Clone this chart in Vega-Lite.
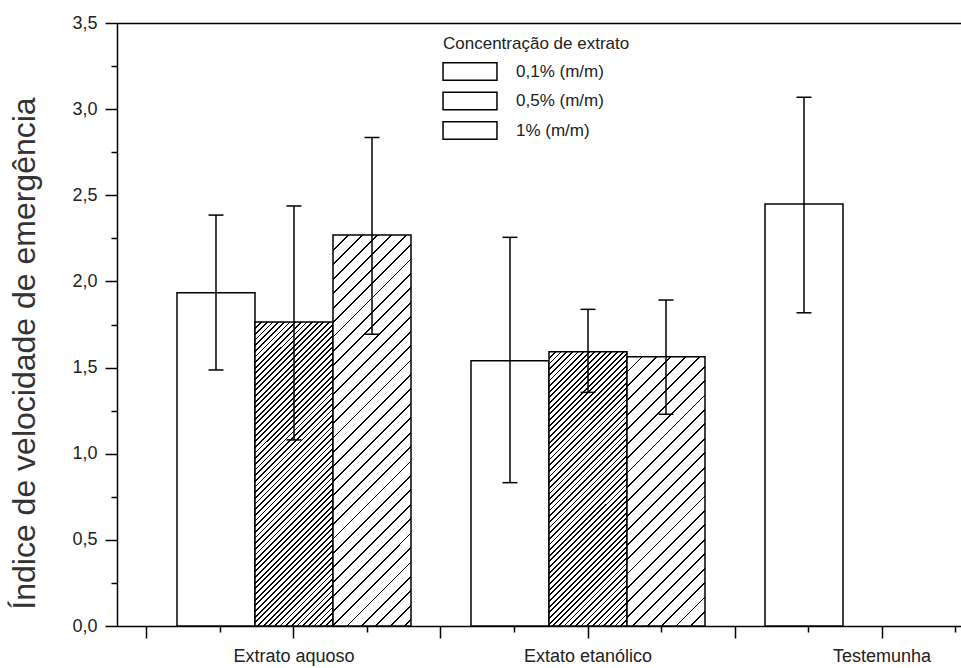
{
"$schema": "https://vega.github.io/schema/vega-lite/v6.json",
"autosize": "none",
"width": 844,
"height": 603,
"padding": {"left": 117, "top": 23, "right": 0, "bottom": 42},
"background": "white",
"config": {
"view": {"stroke": null},
"axis": {"domainColor": "#000", "domainWidth": 1.5, "tickColor": "#000", "tickWidth": 1.5, "labelFont": "Liberation Sans", "labelColor": "#222", "titleFont": "Liberation Sans", "grid": false}
},
"params": [
{"name": "denseStops", "value": [
{"offset":0,"color":"#000"},{"offset":0.004,"color":"#000"},{"offset":0.004,"color":"#fff"},{"offset":0.0125,"color":"#fff"},
{"offset":0.0125,"color":"#000"},{"offset":0.0165,"color":"#000"},{"offset":0.0165,"color":"#fff"},{"offset":0.025,"color":"#fff"},
{"offset":0.025,"color":"#000"},{"offset":0.029,"color":"#000"},{"offset":0.029,"color":"#fff"},{"offset":0.0375,"color":"#fff"},
{"offset":0.0375,"color":"#000"},{"offset":0.0415,"color":"#000"},{"offset":0.0415,"color":"#fff"},{"offset":0.05,"color":"#fff"},
{"offset":0.05,"color":"#000"},{"offset":0.054,"color":"#000"},{"offset":0.054,"color":"#fff"},{"offset":0.0625,"color":"#fff"},
{"offset":0.0625,"color":"#000"},{"offset":0.0665,"color":"#000"},{"offset":0.0665,"color":"#fff"},{"offset":0.075,"color":"#fff"},
{"offset":0.075,"color":"#000"},{"offset":0.079,"color":"#000"},{"offset":0.079,"color":"#fff"},{"offset":0.0875,"color":"#fff"},
{"offset":0.0875,"color":"#000"},{"offset":0.0915,"color":"#000"},{"offset":0.0915,"color":"#fff"},{"offset":0.1,"color":"#fff"},
{"offset":0.1,"color":"#000"},{"offset":0.104,"color":"#000"},{"offset":0.104,"color":"#fff"},{"offset":0.1125,"color":"#fff"},
{"offset":0.1125,"color":"#000"},{"offset":0.1165,"color":"#000"},{"offset":0.1165,"color":"#fff"},{"offset":0.125,"color":"#fff"},
{"offset":0.125,"color":"#000"},{"offset":0.129,"color":"#000"},{"offset":0.129,"color":"#fff"},{"offset":0.1375,"color":"#fff"},
{"offset":0.1375,"color":"#000"},{"offset":0.1415,"color":"#000"},{"offset":0.1415,"color":"#fff"},{"offset":0.15,"color":"#fff"},
{"offset":0.15,"color":"#000"},{"offset":0.154,"color":"#000"},{"offset":0.154,"color":"#fff"},{"offset":0.1625,"color":"#fff"},
{"offset":0.1625,"color":"#000"},{"offset":0.1665,"color":"#000"},{"offset":0.1665,"color":"#fff"},{"offset":0.175,"color":"#fff"},
{"offset":0.175,"color":"#000"},{"offset":0.179,"color":"#000"},{"offset":0.179,"color":"#fff"},{"offset":0.1875,"color":"#fff"},
{"offset":0.1875,"color":"#000"},{"offset":0.1915,"color":"#000"},{"offset":0.1915,"color":"#fff"},{"offset":0.2,"color":"#fff"},
{"offset":0.2,"color":"#000"},{"offset":0.204,"color":"#000"},{"offset":0.204,"color":"#fff"},{"offset":0.2125,"color":"#fff"},
{"offset":0.2125,"color":"#000"},{"offset":0.2165,"color":"#000"},{"offset":0.2165,"color":"#fff"},{"offset":0.225,"color":"#fff"},
{"offset":0.225,"color":"#000"},{"offset":0.229,"color":"#000"},{"offset":0.229,"color":"#fff"},{"offset":0.2375,"color":"#fff"},
{"offset":0.2375,"color":"#000"},{"offset":0.2415,"color":"#000"},{"offset":0.2415,"color":"#fff"},{"offset":0.25,"color":"#fff"},
{"offset":0.25,"color":"#000"},{"offset":0.254,"color":"#000"},{"offset":0.254,"color":"#fff"},{"offset":0.2625,"color":"#fff"},
{"offset":0.2625,"color":"#000"},{"offset":0.2665,"color":"#000"},{"offset":0.2665,"color":"#fff"},{"offset":0.275,"color":"#fff"},
{"offset":0.275,"color":"#000"},{"offset":0.279,"color":"#000"},{"offset":0.279,"color":"#fff"},{"offset":0.2875,"color":"#fff"},
{"offset":0.2875,"color":"#000"},{"offset":0.2915,"color":"#000"},{"offset":0.2915,"color":"#fff"},{"offset":0.3,"color":"#fff"},
{"offset":0.3,"color":"#000"},{"offset":0.304,"color":"#000"},{"offset":0.304,"color":"#fff"},{"offset":0.3125,"color":"#fff"},
{"offset":0.3125,"color":"#000"},{"offset":0.3165,"color":"#000"},{"offset":0.3165,"color":"#fff"},{"offset":0.325,"color":"#fff"},
{"offset":0.325,"color":"#000"},{"offset":0.329,"color":"#000"},{"offset":0.329,"color":"#fff"},{"offset":0.3375,"color":"#fff"},
{"offset":0.3375,"color":"#000"},{"offset":0.3415,"color":"#000"},{"offset":0.3415,"color":"#fff"},{"offset":0.35,"color":"#fff"},
{"offset":0.35,"color":"#000"},{"offset":0.354,"color":"#000"},{"offset":0.354,"color":"#fff"},{"offset":0.3625,"color":"#fff"},
{"offset":0.3625,"color":"#000"},{"offset":0.3665,"color":"#000"},{"offset":0.3665,"color":"#fff"},{"offset":0.375,"color":"#fff"},
{"offset":0.375,"color":"#000"},{"offset":0.379,"color":"#000"},{"offset":0.379,"color":"#fff"},{"offset":0.3875,"color":"#fff"},
{"offset":0.3875,"color":"#000"},{"offset":0.3915,"color":"#000"},{"offset":0.3915,"color":"#fff"},{"offset":0.4,"color":"#fff"},
{"offset":0.4,"color":"#000"},{"offset":0.404,"color":"#000"},{"offset":0.404,"color":"#fff"},{"offset":0.4125,"color":"#fff"},
{"offset":0.4125,"color":"#000"},{"offset":0.4165,"color":"#000"},{"offset":0.4165,"color":"#fff"},{"offset":0.425,"color":"#fff"},
{"offset":0.425,"color":"#000"},{"offset":0.429,"color":"#000"},{"offset":0.429,"color":"#fff"},{"offset":0.4375,"color":"#fff"},
{"offset":0.4375,"color":"#000"},{"offset":0.4415,"color":"#000"},{"offset":0.4415,"color":"#fff"},{"offset":0.45,"color":"#fff"},
{"offset":0.45,"color":"#000"},{"offset":0.454,"color":"#000"},{"offset":0.454,"color":"#fff"},{"offset":0.4625,"color":"#fff"},
{"offset":0.4625,"color":"#000"},{"offset":0.4665,"color":"#000"},{"offset":0.4665,"color":"#fff"},{"offset":0.475,"color":"#fff"},
{"offset":0.475,"color":"#000"},{"offset":0.479,"color":"#000"},{"offset":0.479,"color":"#fff"},{"offset":0.4875,"color":"#fff"},
{"offset":0.4875,"color":"#000"},{"offset":0.4915,"color":"#000"},{"offset":0.4915,"color":"#fff"},{"offset":0.5,"color":"#fff"},
{"offset":0.5,"color":"#000"},{"offset":0.504,"color":"#000"},{"offset":0.504,"color":"#fff"},{"offset":0.5125,"color":"#fff"},
{"offset":0.5125,"color":"#000"},{"offset":0.5165,"color":"#000"},{"offset":0.5165,"color":"#fff"},{"offset":0.525,"color":"#fff"},
{"offset":0.525,"color":"#000"},{"offset":0.529,"color":"#000"},{"offset":0.529,"color":"#fff"},{"offset":0.5375,"color":"#fff"},
{"offset":0.5375,"color":"#000"},{"offset":0.5415,"color":"#000"},{"offset":0.5415,"color":"#fff"},{"offset":0.55,"color":"#fff"},
{"offset":0.55,"color":"#000"},{"offset":0.554,"color":"#000"},{"offset":0.554,"color":"#fff"},{"offset":0.5625,"color":"#fff"},
{"offset":0.5625,"color":"#000"},{"offset":0.5665,"color":"#000"},{"offset":0.5665,"color":"#fff"},{"offset":0.575,"color":"#fff"},
{"offset":0.575,"color":"#000"},{"offset":0.579,"color":"#000"},{"offset":0.579,"color":"#fff"},{"offset":0.5875,"color":"#fff"},
{"offset":0.5875,"color":"#000"},{"offset":0.5915,"color":"#000"},{"offset":0.5915,"color":"#fff"},{"offset":0.6,"color":"#fff"},
{"offset":0.6,"color":"#000"},{"offset":0.604,"color":"#000"},{"offset":0.604,"color":"#fff"},{"offset":0.6125,"color":"#fff"},
{"offset":0.6125,"color":"#000"},{"offset":0.6165,"color":"#000"},{"offset":0.6165,"color":"#fff"},{"offset":0.625,"color":"#fff"},
{"offset":0.625,"color":"#000"},{"offset":0.629,"color":"#000"},{"offset":0.629,"color":"#fff"},{"offset":0.6375,"color":"#fff"},
{"offset":0.6375,"color":"#000"},{"offset":0.6415,"color":"#000"},{"offset":0.6415,"color":"#fff"},{"offset":0.65,"color":"#fff"},
{"offset":0.65,"color":"#000"},{"offset":0.654,"color":"#000"},{"offset":0.654,"color":"#fff"},{"offset":0.6625,"color":"#fff"},
{"offset":0.6625,"color":"#000"},{"offset":0.6665,"color":"#000"},{"offset":0.6665,"color":"#fff"},{"offset":0.675,"color":"#fff"},
{"offset":0.675,"color":"#000"},{"offset":0.679,"color":"#000"},{"offset":0.679,"color":"#fff"},{"offset":0.6875,"color":"#fff"},
{"offset":0.6875,"color":"#000"},{"offset":0.6915,"color":"#000"},{"offset":0.6915,"color":"#fff"},{"offset":0.7,"color":"#fff"},
{"offset":0.7,"color":"#000"},{"offset":0.704,"color":"#000"},{"offset":0.704,"color":"#fff"},{"offset":0.7125,"color":"#fff"},
{"offset":0.7125,"color":"#000"},{"offset":0.7165,"color":"#000"},{"offset":0.7165,"color":"#fff"},{"offset":0.725,"color":"#fff"},
{"offset":0.725,"color":"#000"},{"offset":0.729,"color":"#000"},{"offset":0.729,"color":"#fff"},{"offset":0.7375,"color":"#fff"},
{"offset":0.7375,"color":"#000"},{"offset":0.7415,"color":"#000"},{"offset":0.7415,"color":"#fff"},{"offset":0.75,"color":"#fff"},
{"offset":0.75,"color":"#000"},{"offset":0.754,"color":"#000"},{"offset":0.754,"color":"#fff"},{"offset":0.7625,"color":"#fff"},
{"offset":0.7625,"color":"#000"},{"offset":0.7665,"color":"#000"},{"offset":0.7665,"color":"#fff"},{"offset":0.775,"color":"#fff"},
{"offset":0.775,"color":"#000"},{"offset":0.779,"color":"#000"},{"offset":0.779,"color":"#fff"},{"offset":0.7875,"color":"#fff"},
{"offset":0.7875,"color":"#000"},{"offset":0.7915,"color":"#000"},{"offset":0.7915,"color":"#fff"},{"offset":0.8,"color":"#fff"},
{"offset":0.8,"color":"#000"},{"offset":0.804,"color":"#000"},{"offset":0.804,"color":"#fff"},{"offset":0.8125,"color":"#fff"},
{"offset":0.8125,"color":"#000"},{"offset":0.8165,"color":"#000"},{"offset":0.8165,"color":"#fff"},{"offset":0.825,"color":"#fff"},
{"offset":0.825,"color":"#000"},{"offset":0.829,"color":"#000"},{"offset":0.829,"color":"#fff"},{"offset":0.8375,"color":"#fff"},
{"offset":0.8375,"color":"#000"},{"offset":0.8415,"color":"#000"},{"offset":0.8415,"color":"#fff"},{"offset":0.85,"color":"#fff"},
{"offset":0.85,"color":"#000"},{"offset":0.854,"color":"#000"},{"offset":0.854,"color":"#fff"},{"offset":0.8625,"color":"#fff"},
{"offset":0.8625,"color":"#000"},{"offset":0.8665,"color":"#000"},{"offset":0.8665,"color":"#fff"},{"offset":0.875,"color":"#fff"},
{"offset":0.875,"color":"#000"},{"offset":0.879,"color":"#000"},{"offset":0.879,"color":"#fff"},{"offset":0.8875,"color":"#fff"},
{"offset":0.8875,"color":"#000"},{"offset":0.8915,"color":"#000"},{"offset":0.8915,"color":"#fff"},{"offset":0.9,"color":"#fff"},
{"offset":0.9,"color":"#000"},{"offset":0.904,"color":"#000"},{"offset":0.904,"color":"#fff"},{"offset":0.9125,"color":"#fff"},
{"offset":0.9125,"color":"#000"},{"offset":0.9165,"color":"#000"},{"offset":0.9165,"color":"#fff"},{"offset":0.925,"color":"#fff"},
{"offset":0.925,"color":"#000"},{"offset":0.929,"color":"#000"},{"offset":0.929,"color":"#fff"},{"offset":0.9375,"color":"#fff"},
{"offset":0.9375,"color":"#000"},{"offset":0.9415,"color":"#000"},{"offset":0.9415,"color":"#fff"},{"offset":0.95,"color":"#fff"},
{"offset":0.95,"color":"#000"},{"offset":0.954,"color":"#000"},{"offset":0.954,"color":"#fff"},{"offset":0.9625,"color":"#fff"},
{"offset":0.9625,"color":"#000"},{"offset":0.9665,"color":"#000"},{"offset":0.9665,"color":"#fff"},{"offset":0.975,"color":"#fff"},
{"offset":0.975,"color":"#000"},{"offset":0.979,"color":"#000"},{"offset":0.979,"color":"#fff"},{"offset":0.9875,"color":"#fff"},
{"offset":0.9875,"color":"#000"},{"offset":0.9915,"color":"#000"},{"offset":0.9915,"color":"#fff"},{"offset":1,"color":"#fff"}
]},
{"name": "sparseStops", "value": [
{"offset":0,"color":"#000"},{"offset":0.0032,"color":"#000"},{"offset":0.0032,"color":"#fff"},{"offset":0.025,"color":"#fff"},
{"offset":0.025,"color":"#000"},{"offset":0.0282,"color":"#000"},{"offset":0.0282,"color":"#fff"},{"offset":0.05,"color":"#fff"},
{"offset":0.05,"color":"#000"},{"offset":0.0532,"color":"#000"},{"offset":0.0532,"color":"#fff"},{"offset":0.075,"color":"#fff"},
{"offset":0.075,"color":"#000"},{"offset":0.0782,"color":"#000"},{"offset":0.0782,"color":"#fff"},{"offset":0.1,"color":"#fff"},
{"offset":0.1,"color":"#000"},{"offset":0.1032,"color":"#000"},{"offset":0.1032,"color":"#fff"},{"offset":0.125,"color":"#fff"},
{"offset":0.125,"color":"#000"},{"offset":0.1282,"color":"#000"},{"offset":0.1282,"color":"#fff"},{"offset":0.15,"color":"#fff"},
{"offset":0.15,"color":"#000"},{"offset":0.1532,"color":"#000"},{"offset":0.1532,"color":"#fff"},{"offset":0.175,"color":"#fff"},
{"offset":0.175,"color":"#000"},{"offset":0.1782,"color":"#000"},{"offset":0.1782,"color":"#fff"},{"offset":0.2,"color":"#fff"},
{"offset":0.2,"color":"#000"},{"offset":0.2032,"color":"#000"},{"offset":0.2032,"color":"#fff"},{"offset":0.225,"color":"#fff"},
{"offset":0.225,"color":"#000"},{"offset":0.2282,"color":"#000"},{"offset":0.2282,"color":"#fff"},{"offset":0.25,"color":"#fff"},
{"offset":0.25,"color":"#000"},{"offset":0.2532,"color":"#000"},{"offset":0.2532,"color":"#fff"},{"offset":0.275,"color":"#fff"},
{"offset":0.275,"color":"#000"},{"offset":0.2782,"color":"#000"},{"offset":0.2782,"color":"#fff"},{"offset":0.3,"color":"#fff"},
{"offset":0.3,"color":"#000"},{"offset":0.3032,"color":"#000"},{"offset":0.3032,"color":"#fff"},{"offset":0.325,"color":"#fff"},
{"offset":0.325,"color":"#000"},{"offset":0.3282,"color":"#000"},{"offset":0.3282,"color":"#fff"},{"offset":0.35,"color":"#fff"},
{"offset":0.35,"color":"#000"},{"offset":0.3532,"color":"#000"},{"offset":0.3532,"color":"#fff"},{"offset":0.375,"color":"#fff"},
{"offset":0.375,"color":"#000"},{"offset":0.3782,"color":"#000"},{"offset":0.3782,"color":"#fff"},{"offset":0.4,"color":"#fff"},
{"offset":0.4,"color":"#000"},{"offset":0.4032,"color":"#000"},{"offset":0.4032,"color":"#fff"},{"offset":0.425,"color":"#fff"},
{"offset":0.425,"color":"#000"},{"offset":0.4282,"color":"#000"},{"offset":0.4282,"color":"#fff"},{"offset":0.45,"color":"#fff"},
{"offset":0.45,"color":"#000"},{"offset":0.4532,"color":"#000"},{"offset":0.4532,"color":"#fff"},{"offset":0.475,"color":"#fff"},
{"offset":0.475,"color":"#000"},{"offset":0.4782,"color":"#000"},{"offset":0.4782,"color":"#fff"},{"offset":0.5,"color":"#fff"},
{"offset":0.5,"color":"#000"},{"offset":0.5032,"color":"#000"},{"offset":0.5032,"color":"#fff"},{"offset":0.525,"color":"#fff"},
{"offset":0.525,"color":"#000"},{"offset":0.5282,"color":"#000"},{"offset":0.5282,"color":"#fff"},{"offset":0.55,"color":"#fff"},
{"offset":0.55,"color":"#000"},{"offset":0.5532,"color":"#000"},{"offset":0.5532,"color":"#fff"},{"offset":0.575,"color":"#fff"},
{"offset":0.575,"color":"#000"},{"offset":0.5782,"color":"#000"},{"offset":0.5782,"color":"#fff"},{"offset":0.6,"color":"#fff"},
{"offset":0.6,"color":"#000"},{"offset":0.6032,"color":"#000"},{"offset":0.6032,"color":"#fff"},{"offset":0.625,"color":"#fff"},
{"offset":0.625,"color":"#000"},{"offset":0.6282,"color":"#000"},{"offset":0.6282,"color":"#fff"},{"offset":0.65,"color":"#fff"},
{"offset":0.65,"color":"#000"},{"offset":0.6532,"color":"#000"},{"offset":0.6532,"color":"#fff"},{"offset":0.675,"color":"#fff"},
{"offset":0.675,"color":"#000"},{"offset":0.6782,"color":"#000"},{"offset":0.6782,"color":"#fff"},{"offset":0.7,"color":"#fff"},
{"offset":0.7,"color":"#000"},{"offset":0.7032,"color":"#000"},{"offset":0.7032,"color":"#fff"},{"offset":0.725,"color":"#fff"},
{"offset":0.725,"color":"#000"},{"offset":0.7282,"color":"#000"},{"offset":0.7282,"color":"#fff"},{"offset":0.75,"color":"#fff"},
{"offset":0.75,"color":"#000"},{"offset":0.7532,"color":"#000"},{"offset":0.7532,"color":"#fff"},{"offset":0.775,"color":"#fff"},
{"offset":0.775,"color":"#000"},{"offset":0.7782,"color":"#000"},{"offset":0.7782,"color":"#fff"},{"offset":0.8,"color":"#fff"},
{"offset":0.8,"color":"#000"},{"offset":0.8032,"color":"#000"},{"offset":0.8032,"color":"#fff"},{"offset":0.825,"color":"#fff"},
{"offset":0.825,"color":"#000"},{"offset":0.8282,"color":"#000"},{"offset":0.8282,"color":"#fff"},{"offset":0.85,"color":"#fff"},
{"offset":0.85,"color":"#000"},{"offset":0.8532,"color":"#000"},{"offset":0.8532,"color":"#fff"},{"offset":0.875,"color":"#fff"},
{"offset":0.875,"color":"#000"},{"offset":0.8782,"color":"#000"},{"offset":0.8782,"color":"#fff"},{"offset":0.9,"color":"#fff"},
{"offset":0.9,"color":"#000"},{"offset":0.9032,"color":"#000"},{"offset":0.9032,"color":"#fff"},{"offset":0.925,"color":"#fff"},
{"offset":0.925,"color":"#000"},{"offset":0.9282,"color":"#000"},{"offset":0.9282,"color":"#fff"},{"offset":0.95,"color":"#fff"},
{"offset":0.95,"color":"#000"},{"offset":0.9532,"color":"#000"},{"offset":0.9532,"color":"#fff"},{"offset":0.975,"color":"#fff"},
{"offset":0.975,"color":"#000"},{"offset":0.9782,"color":"#000"},{"offset":0.9782,"color":"#fff"},{"offset":1,"color":"#fff"}
]}
],
"data": {"values": [
{"grupo": "Extrato aquoso", "conc": "0,1% (m/m)", "media": 1.935, "inf": 1.486, "sup": 2.385},
{"grupo": "Extrato aquoso", "conc": "0,5% (m/m)", "media": 1.764, "inf": 1.080, "sup": 2.438},
{"grupo": "Extrato aquoso", "conc": "1% (m/m)", "media": 2.269, "inf": 1.693, "sup": 2.836},
{"grupo": "Extato etanólico", "conc": "0,1% (m/m)", "media": 1.540, "inf": 0.832, "sup": 2.256},
{"grupo": "Extato etanólico", "conc": "0,5% (m/m)", "media": 1.592, "inf": 1.356, "sup": 1.838},
{"grupo": "Extato etanólico", "conc": "1% (m/m)", "media": 1.563, "inf": 1.229, "sup": 1.892},
{"grupo": "Testemunha", "conc": "0,1% (m/m)", "media": 2.449, "inf": 1.818, "sup": 3.069}
]},
"encoding": {
"xOffset": {"field": "conc", "type": "nominal", "scale": {"domain": ["0,1% (m/m)", "0,5% (m/m)", "1% (m/m)"], "paddingInner": 0, "paddingOuter": 0.3846}}
},
"layer": [
{
"transform": [{"filter": "datum.conc === '0,1% (m/m)'"}],
"mark": {"type": "bar", "fill": "#fff", "stroke": "#000", "strokeWidth": 1.5, "opacity": 1},
"encoding": {
"x": {"field": "grupo", "type": "nominal", "sort": null, "scale": {"domain": ["Extrato aquoso", "Extato etanólico", "Testemunha"], "range": [0, 942], "paddingInner": 0, "paddingOuter": 0.10204},
"axis": {"orient": "bottom", "bandPosition": 0.5, "tickSize": 12, "labelFontSize": 18, "labelPadding": 9, "labelAngle": 0, "labelOverlap": false, "domain": false, "title": null}},
"y": {"field": "media", "type": "quantitative", "scale": {"domain": [0, 3.5], "nice": false},
"axis": {"orient": "left", "values": [0, 0.5, 1, 1.5, 2, 2.5, 3, 3.5], "tickSize": 12, "labelFontSize": 18, "labelPadding": 8, "labelFlush": false, "labelOverlap": false, "labelExpr": "replace(format(datum.value, '.1f'), '.', ',')", "title": "Índice de velocidade de emergência", "titleFontSize": 32, "titleFontWeight": "normal", "titleColor": "#333", "titleAngle": 270, "titleAlign": "center", "titleBaseline": "alphabetic", "titleX": -83, "titleY": 330}},
"strokeDash": {"field": "conc", "type": "nominal",
"scale": {"domain": ["0,1% (m/m)", "0,5% (m/m)", "1% (m/m)"], "range": [[1, 0], [1, 0], [1, 0]]},
"legend": {"orient": "none", "legendX": 326, "legendY": 13, "title": "Concentração de extrato", "titleFont": "Liberation Sans", "titleFontSize": 17, "titleFontWeight": "normal", "titleColor": "#222", "titlePadding": 9, "titleLimit": 400, "labelFont": "Liberation Sans", "labelFontSize": 17, "labelColor": "#222", "labelLimit": 300, "labelOffset": 36.5, "rowPadding": 4.5, "symbolType": "M -3.12 -1 L 3.12 -1 L 3.12 1 L -3.12 1 Z", "symbolSize": 299, "symbolOffset": 17.5, "symbolStrokeColor": "#000", "symbolFillColor": "#fff", "symbolStrokeWidth": 1.5, "symbolOpacity": 1}},
"stroke": {"field": "conc", "type": "nominal",
"scale": {"domain": ["0,1% (m/m)", "0,5% (m/m)", "1% (m/m)"], "range": ["#000", "#000", "#000"]},
"legend": {"orient": "none", "legendX": 326, "legendY": 13, "title": "Concentração de extrato", "titleFont": "Liberation Sans", "titleFontSize": 17, "titleFontWeight": "normal", "titleColor": "#222", "titlePadding": 9, "titleLimit": 400, "labelFont": "Liberation Sans", "labelFontSize": 17, "labelColor": "#222", "labelLimit": 300, "labelOffset": 36.5, "rowPadding": 4.5, "symbolType": "M -3.12 -1 L 3.12 -1 L 3.12 1 L -3.12 1 Z", "symbolSize": 299, "symbolOffset": 17.5, "symbolStrokeColor": "#000", "symbolFillColor": "#fff", "symbolStrokeWidth": 1.5, "symbolOpacity": 1}}
}
},
{
"transform": [{"filter": "datum.grupo === 'Extrato aquoso' && datum.conc === '0,5% (m/m)'"}],
"mark": {"type": "bar", "stroke": "#000", "strokeWidth": 1.5, "opacity": 1, "fill": {"expr": "{gradient: 'linear', x1: 0, y1: 0, x2: 0.3585, y2: 1.397, stops: denseStops}"}},
"encoding": {
"x": {"field": "grupo", "type": "nominal", "sort": null, "axis": {"orient": "bottom", "bandPosition": 0, "tickSize": 12, "labels": false, "domain": false, "title": null}},
"y": {"field": "media", "type": "quantitative", "axis": {"orient": "left", "values": [0.25, 0.75, 1.25, 1.75, 2.25, 2.75, 3.25], "tickSize": 6, "labels": false, "domain": false, "title": null}}
}
},
{
"transform": [{"filter": "datum.grupo === 'Extato etanólico' && datum.conc === '0,5% (m/m)'"}],
"mark": {"type": "bar", "stroke": "#000", "strokeWidth": 1.5, "opacity": 1, "fill": {"expr": "{gradient: 'linear', x1: 0, y1: 0, x2: 0.434, y2: 1.5263, stops: denseStops}"}},
"encoding": {
"x": {"field": "grupo", "type": "nominal", "sort": null, "axis": {"orient": "bottom", "bandPosition": 0.25, "tickSize": 6, "labels": false, "domain": false, "title": null}},
"y": {"field": "media", "type": "quantitative", "axis": {"orient": "left", "values": [0, 3.5], "grid": true, "gridColor": "#000", "gridWidth": 1.5, "gridOpacity": 1, "ticks": false, "labels": false, "domain": false, "title": null}}
}
},
{
"transform": [{"filter": "datum.grupo === 'Extrato aquoso' && datum.conc === '1% (m/m)'"}],
"mark": {"type": "bar", "stroke": "#000", "strokeWidth": 1.5, "opacity": 1, "fill": {"expr": "{gradient: 'linear', x1: 0, y1: 0, x2: 0.2833, y2: 1.4196, stops: sparseStops}"}},
"encoding": {
"x": {"field": "grupo", "type": "nominal", "sort": null, "axis": {"orient": "bottom", "bandPosition": 0.75, "tickSize": 6, "labels": false, "domain": false, "title": null}},
"y": {"field": "media", "type": "quantitative", "axis": null}
}
},
{
"transform": [{"filter": "datum.grupo === 'Extato etanólico' && datum.conc === '1% (m/m)'"}],
"mark": {"type": "bar", "stroke": "#000", "strokeWidth": 1.5, "opacity": 1, "fill": {"expr": "{gradient: 'linear', x1: 0, y1: 0, x2: 0.5726, y2: 1.9768, stops: sparseStops}"}},
"encoding": {
"x": {"field": "grupo", "type": "nominal", "sort": null, "axis": null},
"y": {"field": "media", "type": "quantitative", "axis": null}
}
},
{
"mark": {"type": "rule", "color": "#000", "strokeWidth": 1.5, "opacity": 1},
"encoding": {
"x": {"field": "grupo", "type": "nominal", "sort": null, "axis": null},
"y": {"field": "inf", "type": "quantitative", "axis": null},
"y2": {"field": "sup"}
}
},
{
"mark": {"type": "tick", "color": "#000", "size": 15, "thickness": 1.5, "opacity": 1},
"encoding": {
"x": {"field": "grupo", "type": "nominal", "sort": null, "axis": null},
"y": {"field": "inf", "type": "quantitative", "axis": null}
}
},
{
"mark": {"type": "tick", "color": "#000", "size": 15, "thickness": 1.5, "opacity": 1},
"encoding": {
"x": {"field": "grupo", "type": "nominal", "sort": null, "axis": null},
"y": {"field": "sup", "type": "quantitative", "axis": null}
}
}
],
"resolve": {"axis": {"x": "independent", "y": "independent"}}
}
